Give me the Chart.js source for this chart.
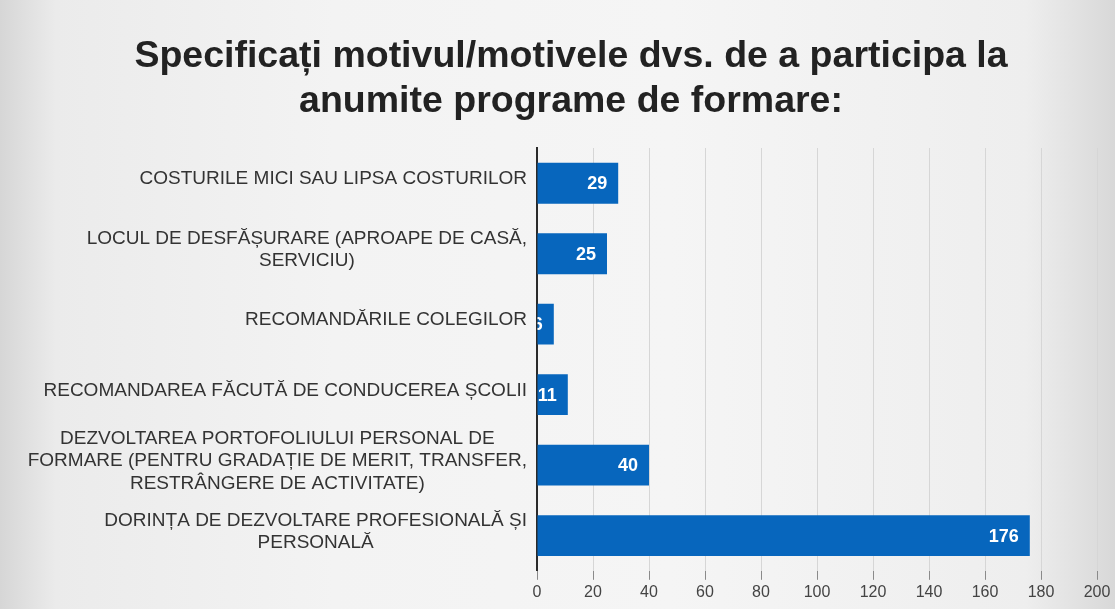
<!DOCTYPE html>
<html>
<head>
<meta charset="utf-8">
<script src="https://cdn.jsdelivr.net/npm/chart.js@4/dist/chart.umd.min.js"></script>
<style>
  html, body { margin: 0; padding: 0; }
  body {
    width: 1115px; height: 609px; overflow: hidden;
    background: linear-gradient(to right, #d6d6d6 0%, #ebebeb 5%, #f3f3f3 30%, #f5f5f5 60%, #eeeeee 92%, #d8d8d8 100%);
  }
  #wrap { position: absolute; left: 0; top: 0; width: 1115px; height: 609px; }
</style>
</head>
<body>
<div id="wrap"><canvas id="c" width="1115" height="609"></canvas></div>
<script>
const titleLines = ['Specificați motivul/motivele dvs. de a participa la', 'anumite programe de formare:'];
const categories = [
  ['COSTURILE MICI SAU LIPSA COSTURILOR'],
  ['LOCUL DE DESFĂȘURARE (APROAPE DE CASĂ,', 'SERVICIU)'],
  ['RECOMANDĂRILE COLEGILOR'],
  ['RECOMANDAREA FĂCUTĂ DE CONDUCEREA ȘCOLII'],
  ['DEZVOLTAREA PORTOFOLIULUI PERSONAL DE', 'FORMARE (PENTRU GRADAȚIE DE MERIT, TRANSFER,', 'RESTRÂNGERE DE ACTIVITATE)'],
  ['DORINȚA DE DEZVOLTARE PROFESIONALĂ ȘI', 'PERSONALĂ']
];
const values = [29, 25, 6, 11, 40, 176];
const xTicks = [0, 20, 40, 60, 80, 100, 120, 140, 160, 180, 200];

const labelFont = '19px "Liberation Sans", Arial, sans-serif';

const catLabelPlugin = {
  id: 'catLabels',
  afterDraw(chart) {
    const ctx = chart.ctx;
    const y = chart.scales.y;
    ctx.save();
    ctx.font = labelFont;
    ctx.fillStyle = '#333333';
    ctx.textBaseline = 'middle';
    ctx.textAlign = 'center';
    const rightEdge = 527;
    const lh = 22.5;
    chart.data.labels.forEach((lines, i) => {
      const cy = y.getPixelForTick(i) - 4;
      let maxW = 0;
      lines.forEach(l => { maxW = Math.max(maxW, ctx.measureText(l).width); });
      const cx = rightEdge - maxW / 2;
      const startY = cy - (lines.length - 1) * lh / 2;
      lines.forEach((l, k) => ctx.fillText(l, cx, startY + k * lh));
    });
    ctx.restore();
  }
};

const valueLabelPlugin = {
  id: 'valueLabels',
  afterDatasetsDraw(chart) {
    const ctx = chart.ctx;
    const meta = chart.getDatasetMeta(0);
    ctx.save();
    ctx.font = 'bold 18px "Liberation Sans", Arial, sans-serif';
    ctx.fillStyle = '#ffffff';
    ctx.textAlign = 'right';
    ctx.textBaseline = 'middle';
    meta.data.forEach((bar, i) => {
      const p = bar.getProps(['x', 'y', 'base', 'height'], true);
      ctx.save();
      ctx.beginPath();
      ctx.rect(p.base, p.y - p.height / 2, p.x - p.base, p.height);
      ctx.clip();
      ctx.fillText(String(chart.data.datasets[0].data[i]), p.x - 11, p.y + 1);
      ctx.restore();
    });
    ctx.restore();
  }
};

new Chart(document.getElementById('c'), {
  type: 'bar',
  data: {
    labels: categories,
    datasets: [{
      data: values,
      backgroundColor: '#0766bd',
      borderWidth: 0,
      categoryPercentage: 1,
      barPercentage: 0.58
    }]
  },
  options: {
    indexAxis: 'y',
    responsive: false,
    animation: false,
    layout: { padding: { left: 45, right: 18, top: 0, bottom: 4 } },
    plugins: {
      legend: { display: false },
      tooltip: { enabled: false },
      title: {
        display: true,
        text: titleLines,
        color: '#222222',
        font: { family: '"Liberation Sans", Arial, sans-serif', size: 37.5, weight: 'bold', lineHeight: 1.2 },
        padding: { top: 34, bottom: 24 }
      }
    },
    scales: {
      x: {
        min: 0, max: 200,
        afterBuildTicks(scale) { scale.ticks = xTicks.map(v => ({ value: v })); },
        grid: { color: '#d6d6d6', lineWidth: 1, tickLength: 9, tickColor: '#8a8a8a', drawTicks: true },
        border: { display: false },
        ticks: {
          color: '#444444', padding: 3,
          font: { family: '"Liberation Sans", Arial, sans-serif', size: 16 }
        }
      },
      y: {
        afterFit(scale) { scale.width = 492; },
        grid: { display: false },
        border: { display: true, color: '#2a2a2a', width: 2 },
        ticks: { display: false }
      }
    }
  },
  plugins: [catLabelPlugin, valueLabelPlugin]
});
</script>
</body>
</html>
